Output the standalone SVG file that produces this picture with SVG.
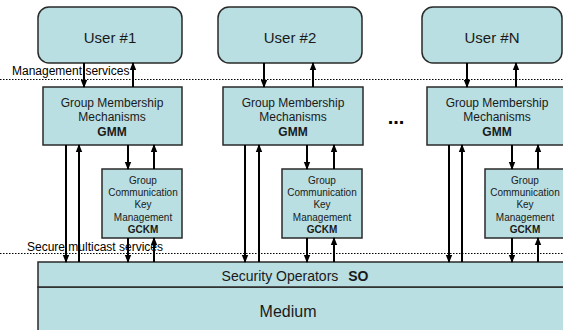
<svg xmlns="http://www.w3.org/2000/svg" width="563" height="330" viewBox="0 0 563 330">
<style>
.box{fill:#B9DFE2;stroke:#2a2a2a;stroke-width:1.5}
.t{font-family:"Liberation Sans",Arial,sans-serif;fill:#1a1a1a;text-anchor:middle}
.lbl{font-family:"Liberation Sans",Arial,sans-serif;fill:#000;font-size:12px}
.dot{stroke:#000;stroke-width:1;stroke-dasharray:1.5 1.5;fill:none}
.a{stroke:#000;stroke-width:2;fill:none;marker-end:url(#ah)}
</style>
<defs>
<marker id="ah" markerUnits="userSpaceOnUse" markerWidth="8" markerHeight="8" viewBox="0 0 8 8" refX="7" refY="4" orient="auto">
<path d="M0,0.8 L8,4 L0,7.2 Z" fill="#000"/>
</marker>
</defs>
<rect width="563" height="330" fill="#fff"/>

<g id="medium"><rect class="box" x="38" y="287" width="530" height="50"/><text class="t" x="288" y="317" font-size="16">Medium</text></g>
<g id="so"><rect class="box" x="38" y="262" width="530" height="25"/><text class="t" x="295" y="281" font-size="14">Security Operators <tspan font-weight="bold" dx="6">SO</tspan></text></g>

<g id="user1"><rect class="box" x="38" y="7" width="144" height="56" rx="11"/><text class="t" x="110" y="43" font-size="15">User #1</text></g>
<g id="user2"><rect class="box" x="218" y="7" width="144" height="56" rx="11"/><text class="t" x="290" y="43" font-size="15">User #2</text></g>
<g id="userN"><rect class="box" x="422" y="7" width="140" height="56" rx="11"/><text class="t" x="492" y="43" font-size="15">User #N</text></g>

<g id="gmm1"><rect class="box" x="43" y="87" width="139" height="58"/><text class="t" x="112" y="107" font-size="12">Group Membership</text><text class="t" x="112" y="121" font-size="12">Mechanisms</text><text class="t" x="112" y="136" font-size="12" font-weight="bold">GMM</text></g>
<g id="gmm2"><rect class="box" x="223" y="87" width="140" height="58"/><text class="t" x="293" y="107" font-size="12">Group Membership</text><text class="t" x="293" y="121" font-size="12">Mechanisms</text><text class="t" x="293" y="136" font-size="12" font-weight="bold">GMM</text></g>
<g id="gmmN"><rect class="box" x="427" y="87" width="145" height="58"/><text class="t" x="497" y="107" font-size="12">Group Membership</text><text class="t" x="497" y="121" font-size="12">Mechanisms</text><text class="t" x="497" y="136" font-size="12" font-weight="bold">GMM</text></g>

<g id="gckm1"><rect class="box" x="102" y="169" width="80" height="69"/><text class="t" x="143" y="184" font-size="10">Group</text><text class="t" x="143" y="196" font-size="10">Communication</text><text class="t" x="143" y="208" font-size="10">Key</text><text class="t" x="143" y="221" font-size="10">Management</text><text class="t" x="143" y="233" font-size="10" font-weight="bold">GCKM</text></g>
<g id="gckm2"><rect class="box" x="282" y="169" width="80" height="69"/><text class="t" x="322" y="184" font-size="10">Group</text><text class="t" x="322" y="196" font-size="10">Communication</text><text class="t" x="322" y="208" font-size="10">Key</text><text class="t" x="322" y="221" font-size="10">Management</text><text class="t" x="322" y="233" font-size="10" font-weight="bold">GCKM</text></g>
<g id="gckmN"><rect class="box" x="485" y="169" width="85" height="69"/><text class="t" x="525" y="184" font-size="10">Group</text><text class="t" x="525" y="196" font-size="10">Communication</text><text class="t" x="525" y="208" font-size="10">Key</text><text class="t" x="525" y="221" font-size="10">Management</text><text class="t" x="525" y="233" font-size="10" font-weight="bold">GCKM</text></g>

<g id="ellipsis"><text x="396" y="124" font-family="Liberation Sans,Arial,sans-serif" font-size="20" font-weight="bold" text-anchor="middle">...</text></g>

<g id="layers">
<line class="dot" x1="0" y1="79.5" x2="563" y2="79.5"/>
<line class="dot" x1="0" y1="253.5" x2="563" y2="253.5"/>
<text class="lbl" x="12" y="75">Management  services</text>
<text class="lbl" x="27" y="251">Secure  multicast  services</text>
</g>

<g id="connectors">
<line class="a" x1="84" y1="63" x2="84" y2="87"/>
<line class="a" x1="133" y1="87" x2="133" y2="63"/>
<line class="a" x1="264" y1="63" x2="264" y2="87"/>
<line class="a" x1="313" y1="87" x2="313" y2="63"/>
<line class="a" x1="467" y1="63" x2="467" y2="87"/>
<line class="a" x1="516" y1="87" x2="516" y2="63"/>

<line class="a" x1="128" y1="145" x2="128" y2="169"/>
<line class="a" x1="154" y1="169" x2="154" y2="145"/>
<line class="a" x1="307" y1="145" x2="307" y2="169"/>
<line class="a" x1="334" y1="169" x2="334" y2="145"/>
<line class="a" x1="512" y1="145" x2="512" y2="169"/>
<line class="a" x1="538" y1="169" x2="538" y2="145"/>

<line class="a" x1="128" y1="238" x2="128" y2="262"/>
<line class="a" x1="154" y1="262" x2="154" y2="238"/>
<line class="a" x1="307" y1="238" x2="307" y2="262"/>
<line class="a" x1="334" y1="262" x2="334" y2="238"/>
<line class="a" x1="512" y1="238" x2="512" y2="262"/>
<line class="a" x1="538" y1="262" x2="538" y2="238"/>

<line class="a" x1="66" y1="145" x2="66" y2="262"/>
<line class="a" x1="79" y1="262" x2="79" y2="145"/>
<line class="a" x1="245" y1="145" x2="245" y2="262"/>
<line class="a" x1="259" y1="262" x2="259" y2="145"/>
<line class="a" x1="449" y1="145" x2="449" y2="262"/>
<line class="a" x1="462" y1="262" x2="462" y2="145"/>
</g>
</svg>
